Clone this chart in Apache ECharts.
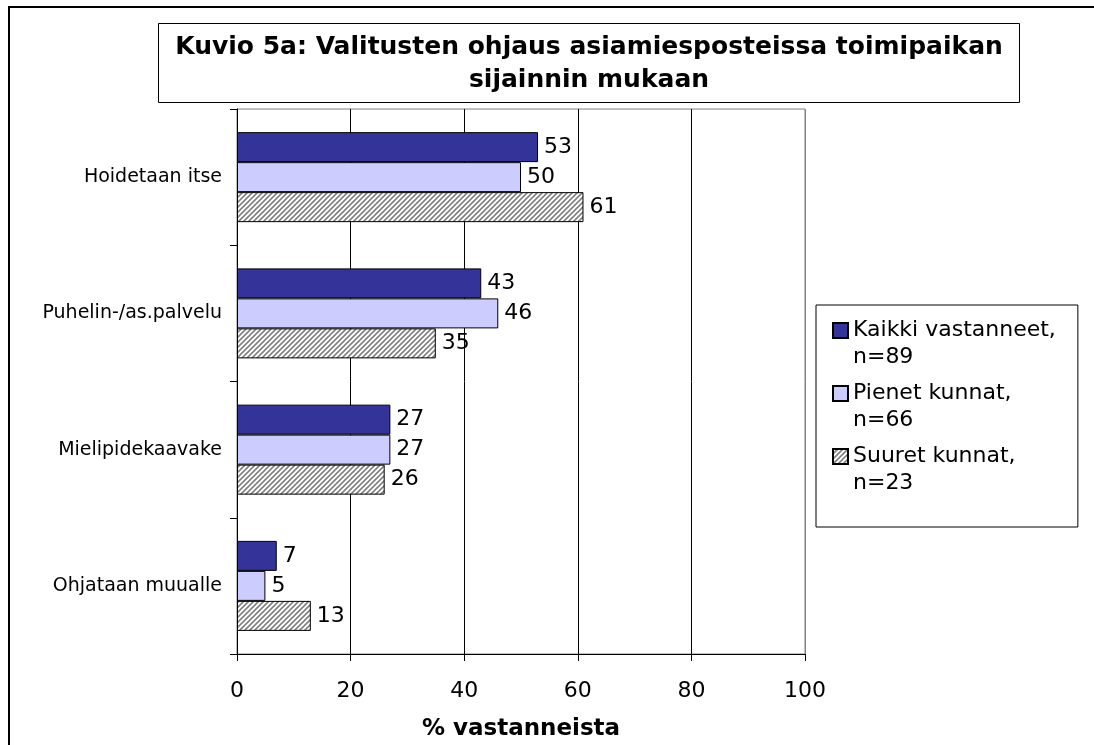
<!DOCTYPE html>
<html>
<head>
<meta charset="utf-8">
<script src="https://cdn.jsdelivr.net/npm/echarts@6/dist/echarts.min.js"></script>
<style>
  html, body { margin: 0; padding: 0; background: #fff; }
  #chart { width: 1094px; height: 745px; }
</style>
</head>
<body>
<div id="chart"></div>
<script>
const categories = ["Hoidetaan itse", "Puhelin-/as.palvelu", "Mielipidekaavake", "Ohjataan muualle"];
const seriesNames = ["Kaikki vastanneet,\nn=89", "Pienet kunnat,\nn=66", "Suuret kunnat,\nn=23"];
const kaikki = [53, 43, 27, 7];
const pienet = [50, 46, 27, 5];
const suuret = [61, 35, 26, 13];
const xTicks = [0, 20, 40, 60, 80, 100];

const font = "DejaVu Sans, Verdana, sans-serif";

// diagonal hatch for the "Suuret kunnat" bars
const hatch = document.createElement("canvas");
hatch.width = 5;
hatch.height = 5;
const hc = hatch.getContext("2d");
hc.fillStyle = "#fff";
hc.fillRect(0, 0, 5, 5);
hc.strokeStyle = "#808080";
hc.lineWidth = 1.6;
hc.beginPath();
hc.moveTo(-1, 6); hc.lineTo(6, -1);
hc.moveTo(-1, 1); hc.lineTo(1, -1);
hc.moveTo(4, 6); hc.lineTo(6, 4);
hc.stroke();

const chart = echarts.init(document.getElementById("chart"));

const barLabel = {
  show: true,
  position: "right",
  distance: 6,
  fontSize: 22,
  fontFamily: font,
  color: "#000",
};

const option = {
  animation: false,
  backgroundColor: "#fff",
  title: {
    text: "Kuvio 5a: Valitusten ohjaus asiamiesposteissa toimipaikan\nsijainnin mukaan",
    left: 589,
    top: 31,
    padding: 0,
    textAlign: "center",
    textStyle: {
      fontFamily: font,
      fontSize: 25,
      fontWeight: "bold",
      lineHeight: 33,
      color: "#000",
    },
  },
  graphic: [
    {
      type: "rect",
      shape: { x: 9, y: 7, width: 1100, height: 800 },
      style: { fill: null, stroke: "#000", lineWidth: 2 },
      z: -10,
    },
    {
      type: "rect",
      shape: { x: 158.5, y: 23.5, width: 861, height: 79 },
      style: { fill: "#fff", stroke: "#000", lineWidth: 1 },
      z: -5,
    },
  ],
  legend: {
    orient: "vertical",
    left: 816,
    top: 305,
    align: "left",
    padding: [12, 22, 30, 16],
    itemGap: 9,
    itemWidth: 15,
    itemHeight: 42,
    icon: "path://M0,0H15V15H0Z M0,42",
    backgroundColor: "#fff",
    borderColor: "#000",
    borderWidth: 1,
    textStyle: {
      fontFamily: font,
      fontSize: 22,
      lineHeight: 27,
      color: "#000",
    },
    data: seriesNames,
  },
  grid: {
    left: 237,
    right: 289,
    top: 109,
    bottom: 91,
    show: true,
    borderColor: "#808080",
    borderWidth: 1,
    outerBoundsMode: "none",
  },
  xAxis: {
    type: "value",
    min: xTicks[0],
    max: xTicks[xTicks.length - 1],
    interval: 20,
    name: "% vastanneista",
    nameLocation: "middle",
    nameGap: 64,
    nameTextStyle: {
      fontFamily: font,
      fontSize: 23,
      fontWeight: "bold",
      color: "#000",
    },
    axisLine: { show: true, lineStyle: { color: "#000", width: 1 } },
    axisTick: { show: true, length: 7, lineStyle: { color: "#000" } },
    axisLabel: {
      margin: 26,
      fontFamily: font,
      fontSize: 22,
      color: "#000",
    },
    splitLine: {
      show: true,
      lineStyle: { color: ["#000", "#000", "#000", "#000", "#000", "#808080"], width: 1 },
    },
  },
  yAxis: {
    type: "category",
    inverse: true,
    data: categories,
    axisLine: { show: true, lineStyle: { color: "#000", width: 1 } },
    axisTick: { show: true, length: 7, alignWithLabel: false, lineStyle: { color: "#000" } },
    axisLabel: {
      margin: 15,
      fontFamily: font,
      fontSize: 19,
      color: "#000",
    },
    splitLine: { show: false },
  },
  series: [
    {
      name: seriesNames[0],
      type: "bar",
      barWidth: 30,
      barGap: "0%",
      itemStyle: { color: "#333399", borderColor: "#000", borderWidth: 1 },
      label: barLabel,
      data: kaikki,
    },
    {
      name: seriesNames[1],
      type: "bar",
      barWidth: 30,
      barGap: "0%",
      itemStyle: { color: "#ccccff", borderColor: "#000", borderWidth: 1 },
      label: barLabel,
      data: pienet,
    },
    {
      name: seriesNames[2],
      type: "bar",
      barWidth: 30,
      barGap: "0%",
      itemStyle: { color: { image: hatch, repeat: "repeat" }, borderColor: "#000", borderWidth: 1 },
      label: barLabel,
      data: suuret,
    },
  ],
};

chart.setOption(option);
</script>
</body>
</html>
